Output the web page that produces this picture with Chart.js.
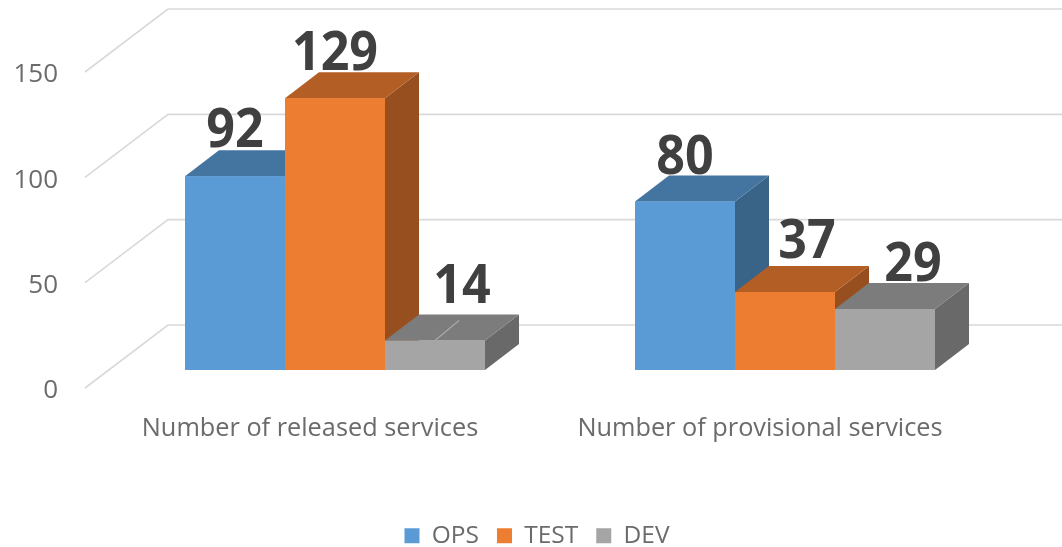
<!DOCTYPE html>
<html>
<head>
<meta charset="utf-8">
<title>Services</title>
<script src="https://cdn.jsdelivr.net/npm/chart.js@4"></script>
<style>
  html, body { margin: 0; padding: 0; background: #fff; }
  canvas { display: block; }
</style>
</head>
<body>
<canvas id="servicesChart" width="1062" height="547"></canvas>
<script>
const categories = ['Number of released services', 'Number of provisional services'];
const opsValues = [92, 80];
const testValues = [129, 37];
const devValues = [14, 29];
const tickLabels = [0, 50, 100, 150];

const textFont = '"Open Sans", sans-serif';

// front, top and side colour of each series
const faces = [
  { front: '#5B9BD5', top: '#4474A0', side: '#3A6388' },
  { front: '#ED7D31', top: '#B25E25', side: '#974F1F' },
  { front: '#A5A5A5', top: '#7C7C7C', side: '#696969' }
];

// the labels were moved by hand in the original, one [x, y] per bar
const labelNudge = [
  [[0, -29], [0, -27]],
  [[0, -28], [22, -34]],
  [[27, -38], [28, -28]]
];

const depth = { x: 34, y: 26 };
const wall = { frontX: 85, backX: 168, frontY: 18, backY: -45 };

function poly(ctx, color, pts) {
  ctx.fillStyle = color;
  ctx.beginPath();
  pts.forEach((p, i) => i ? ctx.lineTo(p[0], p[1]) : ctx.moveTo(p[0], p[1]));
  ctx.closePath();
  ctx.fill();
}

const wallPlugin = {
  id: 'wall',
  // legend sits right of the page centre in the original
  afterLayout(chart) {
    chart.legend.left += 32;
    chart.legend.right += 32;
  },
  beforeDatasetsDraw(chart) {
    const { ctx, scales: { y } } = chart;
    ctx.save();
    ctx.strokeStyle = '#D9D9D9';
    ctx.lineWidth = 1.6;
    tickLabels.forEach(v => {
      const py = y.getPixelForValue(v);
      ctx.beginPath();
      ctx.moveTo(wall.frontX, py + wall.frontY);
      ctx.lineTo(wall.backX, py + wall.backY);
      ctx.lineTo(chart.width, py + wall.backY);
      ctx.stroke();
    });
    ctx.restore();
  }
};

const boxPlugin = {
  id: 'box',
  afterDatasetsDraw(chart) {
    const { ctx, scales: { y } } = chart;
    const base = y.getPixelForValue(0);
    // left to right, so that every bar covers the one before it
    chart.data.datasets.forEach((ds, d) => {
      chart.getDatasetMeta(d).data.forEach(bar => {
        const l = bar.x - bar.width / 2;
        const r = bar.x + bar.width / 2;
        poly(ctx, faces[d].side, [[r, bar.y], [r + depth.x, bar.y - depth.y], [r + depth.x, base - depth.y], [r, base]]);
        poly(ctx, faces[d].top, [[l, bar.y], [l + depth.x, bar.y - depth.y], [r + depth.x, bar.y - depth.y], [r, bar.y]]);
        bar.draw(ctx);
      });
    });

    // leader line of the small DEV bar
    const small = chart.getDatasetMeta(2).data[0];
    ctx.save();
    ctx.strokeStyle = '#A5A5A5';
    ctx.lineWidth = 1.5;
    ctx.beginPath();
    ctx.moveTo(small.x, small.y);
    ctx.lineTo(small.x + 24, small.y - 20);
    ctx.stroke();

    ctx.fillStyle = '#404040';
    ctx.font = '700 54px ' + textFont;
    ctx.textAlign = 'center';
    ctx.textBaseline = 'alphabetic';
    chart.data.datasets.forEach((ds, d) => {
      chart.getDatasetMeta(d).data.forEach((bar, i) => {
        const n = labelNudge[d][i];
        ctx.save();
        ctx.translate(bar.x + n[0], bar.y + n[1]);
        ctx.scale(0.93, 1); // original face is narrower
        ctx.fillText(ds.data[i], 0, 0);
        ctx.restore();
      });
    });
    ctx.restore();
  }
};

new Chart('servicesChart', {
  type: 'bar',
  data: {
    labels: categories,
    datasets: [
      { label: 'OPS', data: opsValues, backgroundColor: faces[0].front },
      { label: 'TEST', data: testValues, backgroundColor: faces[1].front },
      { label: 'DEV', data: devValues, backgroundColor: faces[2].front }
    ]
  },
  options: {
    responsive: false,
    animation: false,
    layout: { padding: { left: 0, right: 52, top: 54, bottom: -11 } },
    datasets: { bar: { barPercentage: 1, categoryPercentage: 2 / 3 } },
    plugins: {
      tooltip: { enabled: false },
      legend: {
        position: 'bottom',
        labels: {
          boxWidth: 15,
          boxHeight: 15,
          padding: 18,
          color: '#6B6B6B',
          font: { family: textFont, size: 24.5 }
        }
      }
    },
    scales: {
      x: {
        grid: { display: false },
        border: { display: false },
        afterFit(scale) { scale.height = 135.5; },
        ticks: {
          padding: 36,
          labelOffset: -25,
          maxRotation: 0,
          color: '#6B6B6B',
          font: { family: textFont, size: 25.3 }
        }
      },
      y: {
        min: 0,
        max: 150,
        grid: { display: false },
        border: { display: false },
        afterFit(scale) {
          scale.width = 110;
          scale.paddingTop = 0;
          scale.paddingBottom = 0;
        },
        ticks: {
          stepSize: 50,
          padding: 44,
          labelOffset: 21,
          color: '#6B6B6B',
          font: { family: textFont, size: 26 }
        }
      }
    }
  },
  plugins: [wallPlugin, boxPlugin]
});
</script>
</body>
</html>
